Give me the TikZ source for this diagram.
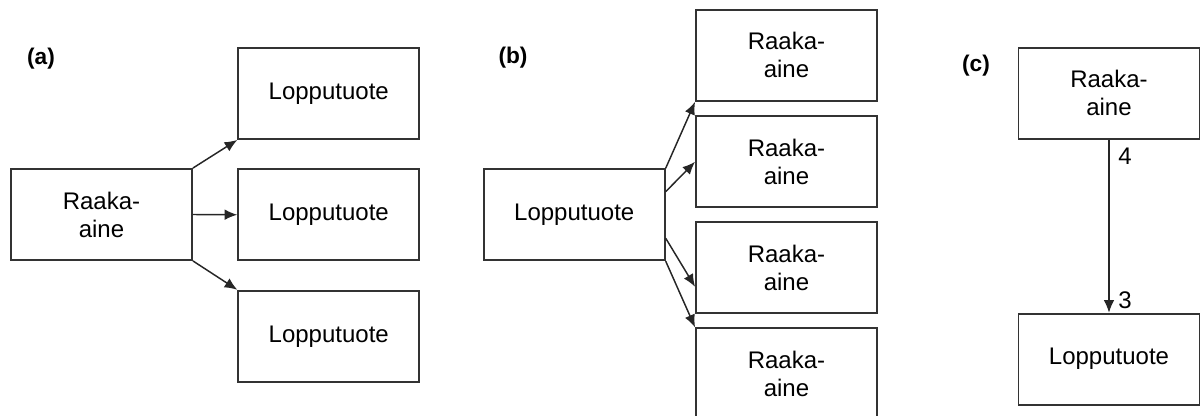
\documentclass[tikz,border=0pt]{standalone}
\usepackage{fontspec}
\setmainfont{Liberation Sans}
\usetikzlibrary{arrows.meta,calc}
\definecolor{edge}{HTML}{333333}
\tikzset{
  box/.style={draw=edge, line width=1.4pt, minimum width=135.75pt, minimum height=68.25pt,
    inner sep=0pt, align=center, font=\fontsize{18}{21}\selectfont},
  link/.style={draw=black!85, line width=1.1pt, -{Latex[length=9.5pt,width=8pt]}},
  tag/.style={font=\fontsize{17}{20}\selectfont, inner sep=0pt},
  num/.style={font=\fontsize{18}{20}\selectfont, inner sep=0pt}
}
\begin{document}
\begin{tikzpicture}[x=0.75pt,y=-0.75pt]
\useasboundingbox (0,0) rectangle (1200,416);
% panel (a): one raw material, several end products
\node[tag] (ta) at (41,59) {\textbf{(a)}};
\node[box] (A)  at (101.5,214.5) {Raaka-\\aine};
\node[box] (L1) at (328.75,93.5) {Lopputuote};
\node[box] (L2) at (328.75,214.75) {Lopputuote};
\node[box] (L3) at (328.75,336.25) {Lopputuote};
\draw[link] (A.north east) -- (L1.south west);
\draw[link] (A.east) -- (L2.west);
\draw[link] (A.south east) -- (L3.north west);
% panel (b): one end product, several raw materials
\node[tag] (tb) at (513,58) {\textbf{(b)}};
\node[box] (P)  at (574.25,214.7) {Lopputuote};
\node[box] (R1) at (786.5,55.4) {Raaka-\\aine};
\node[box] (R2) at (786.5,161.8) {Raaka-\\aine};
\node[box] (R3) at (786.5,267.8) {Raaka-\\aine};
\node[box] (R4) at (786.5,373.8) {Raaka-\\aine};
\draw[link] (P.north east) -- (R1.south west);
\draw[link] ($(P.east)+(0,-23)$) -- (R2.west);
\draw[link] ($(P.east)+(0,23.5)$) -- ($(R3.west)+(0,19)$);
\draw[link] (P.south east) -- (R4.north west);
% panel (c): quantities on the link
\node[tag] (tc) at (976,66) {\textbf{(c)}};
\node[box] (C1) at (1109,93.4) {Raaka-\\aine};
\node[box] (C2) at (1109,359.2) {Lopputuote};
\draw[link] (C1.south) -- (C2.north);
\node[num] (n4) at (1125,156) {4};
\node[num] (n3) at (1125,300) {3};
\end{tikzpicture}
\end{document}
